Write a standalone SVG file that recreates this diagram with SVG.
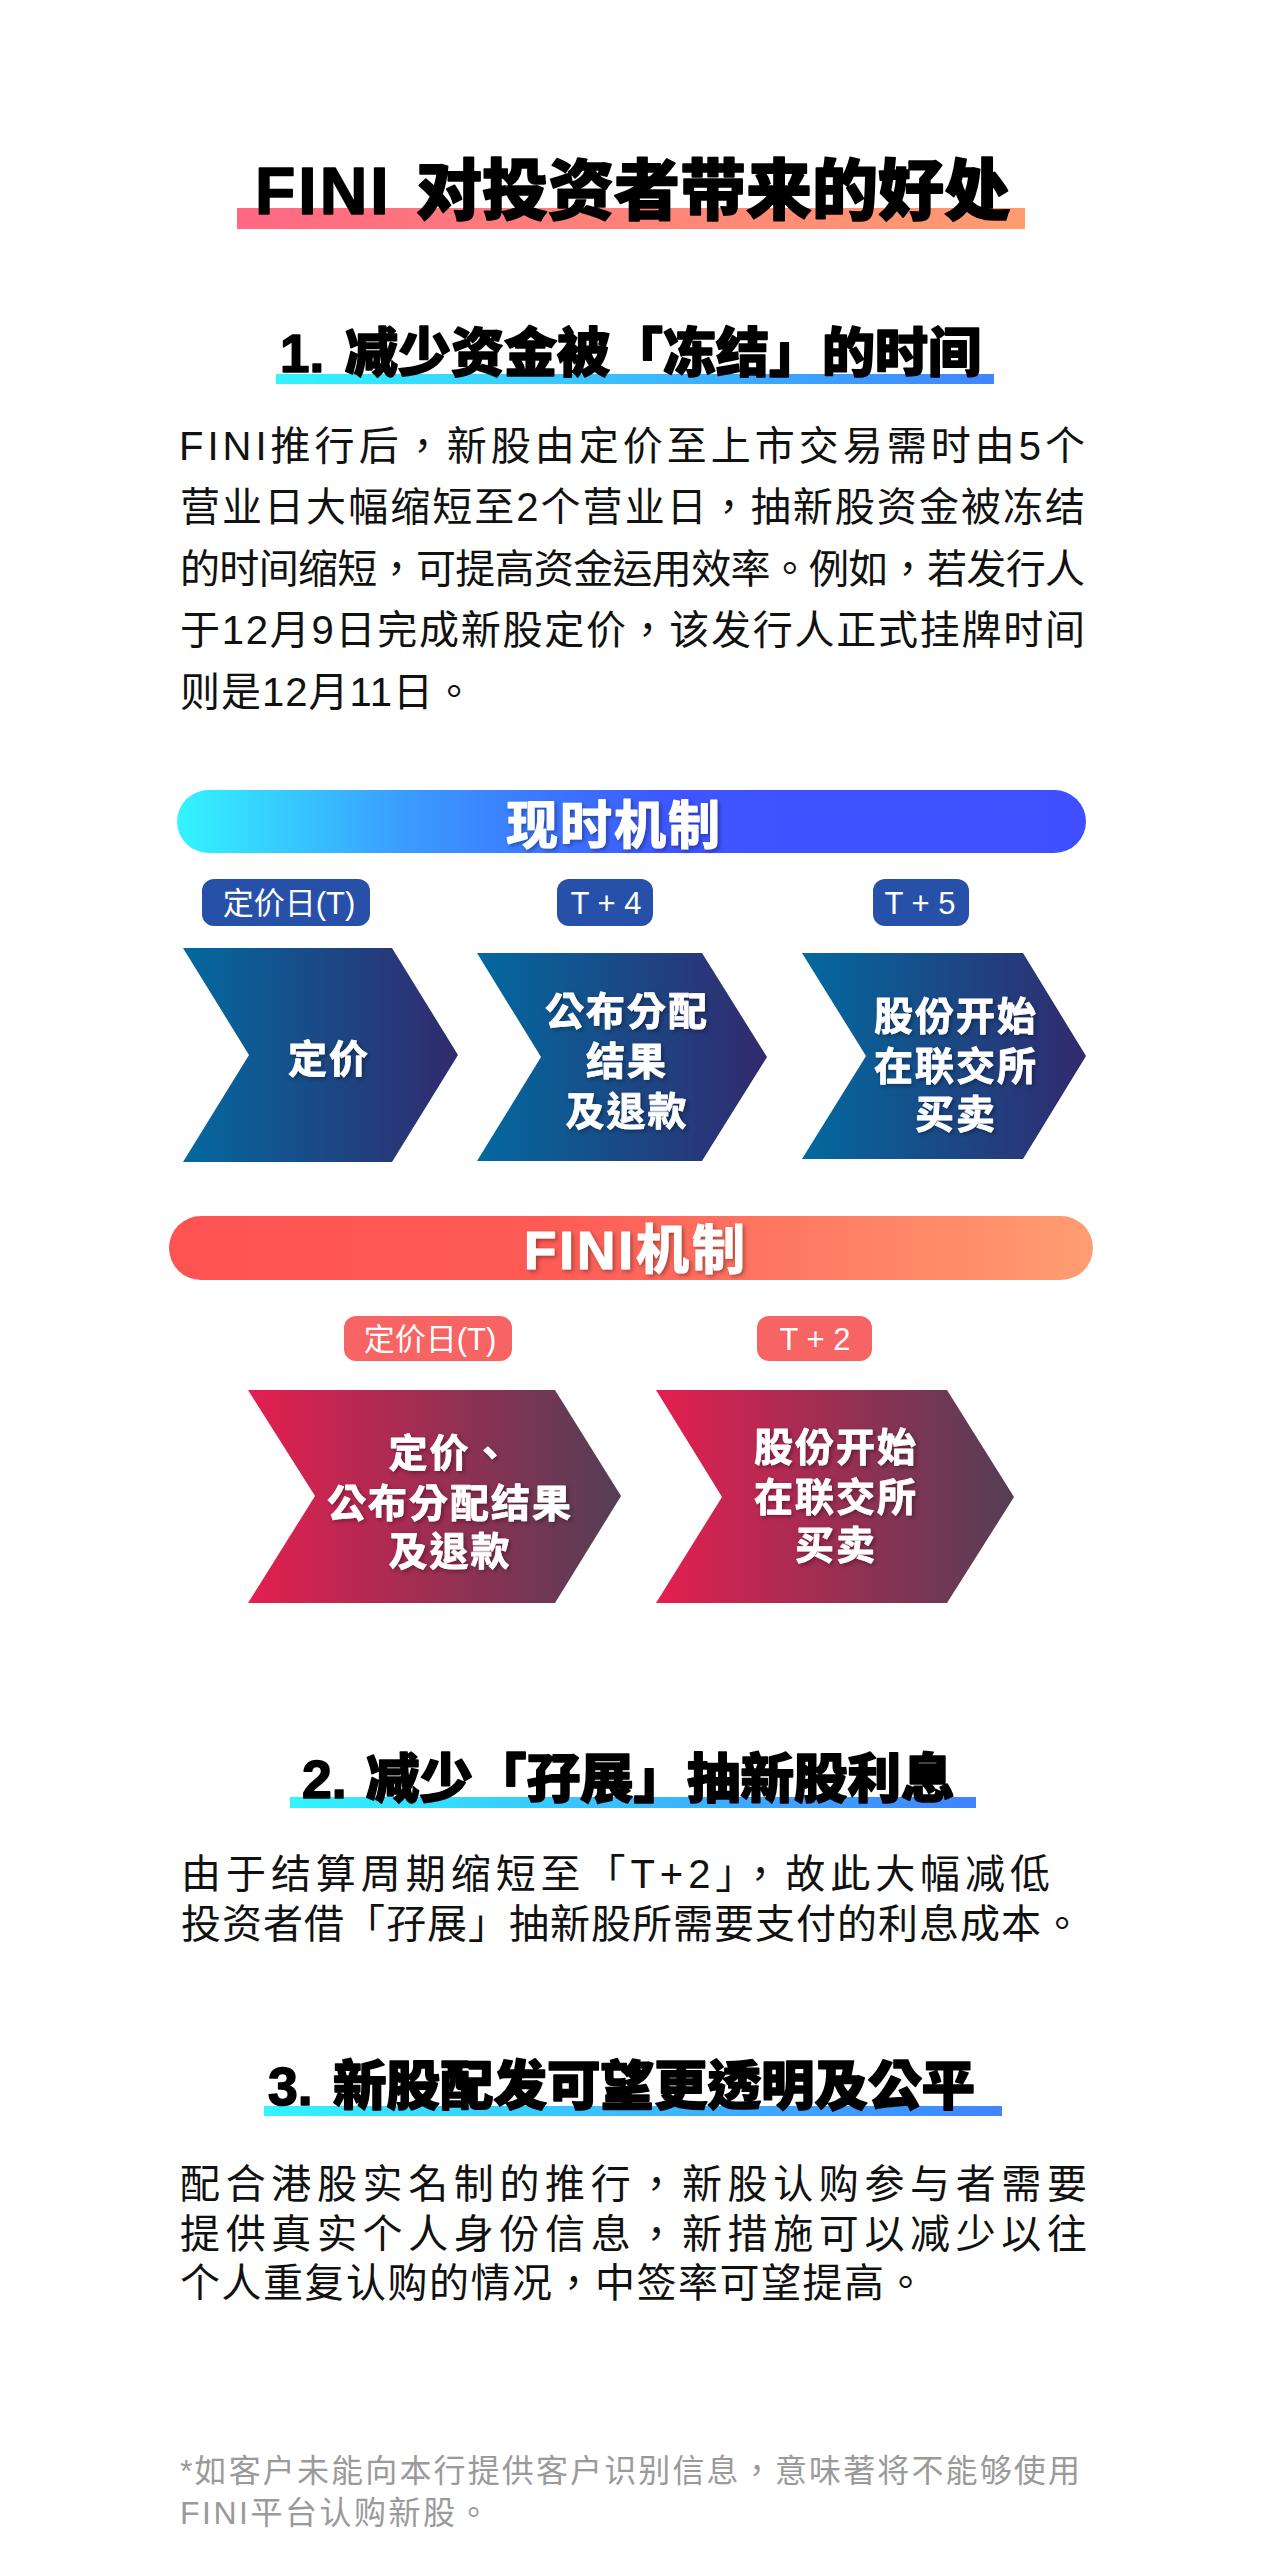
<svg xmlns="http://www.w3.org/2000/svg" width="1263" height="2560" viewBox="0 0 1263 2560">
<defs>
<linearGradient id="gTitle" x1="0" y1="0" x2="1" y2="0"><stop offset="0" stop-color="#ff6883"/><stop offset="1" stop-color="#ff9c6f"/></linearGradient>
<linearGradient id="gHead" x1="0" y1="0" x2="1" y2="0"><stop offset="0" stop-color="#34f3ff"/><stop offset="1" stop-color="#4084ff"/></linearGradient>
<linearGradient id="gBluePill" x1="0" y1="0" x2="1" y2="0"><stop offset="0" stop-color="#33f4ff"/><stop offset="0.25" stop-color="#3a9cff"/><stop offset="0.55" stop-color="#3e55ff"/><stop offset="1" stop-color="#3f4fff"/></linearGradient>
<linearGradient id="gRedPill" x1="0" y1="0" x2="1" y2="0"><stop offset="0" stop-color="#ff5353"/><stop offset="0.4" stop-color="#ff5a55"/><stop offset="1" stop-color="#ff9d72"/></linearGradient>
<linearGradient id="gBlueChev" x1="0" y1="0" x2="1" y2="0"><stop offset="0" stop-color="#03699f"/><stop offset="1" stop-color="#312a6e"/></linearGradient>
<linearGradient id="gRedChev" x1="0" y1="0" x2="1" y2="0"><stop offset="0" stop-color="#e41f50"/><stop offset="1" stop-color="#533e55"/></linearGradient>
<filter id="ts" x="-10%" y="-20%" width="125%" height="150%"><feDropShadow dx="2" dy="2" stdDeviation="2" flood-color="#000" flood-opacity="0.35"/></filter>
<style>
.h{font-family:"Liberation Sans","Noto Sans CJK TC",sans-serif;font-weight:900;fill:#000;stroke:#000;stroke-width:1.6px;stroke-linejoin:round}
.b{font-family:"Liberation Sans","Noto Sans CJK TC",sans-serif;font-size:40px;fill:#111}
.fn{font-family:"Liberation Sans","Noto Sans CJK TC",sans-serif;font-size:32px;fill:#9a9a9a}
.pill{font-family:"Liberation Sans","Noto Sans CJK TC",sans-serif;font-weight:700;fill:#fff;stroke:#fff;stroke-width:1.2px;stroke-linejoin:round}
.tag{font-family:"Liberation Sans","Noto Sans CJK TC",sans-serif;font-size:31px;fill:#fff;text-anchor:middle}
.cv{font-family:"Liberation Sans","Noto Sans CJK TC",sans-serif;font-weight:700;font-size:39px;fill:#fff;stroke:#fff;stroke-width:0.8px;stroke-linejoin:round;text-anchor:middle;letter-spacing:2px}
.tb{fill:#2751a9}
.tr{fill:#f76464}
</style>
</defs>
<rect width="1263" height="2560" fill="#fff"/>

<g id="title">
<rect x="237" y="208" width="788" height="21" fill="url(#gTitle)"/>
<text class="h" font-size="66" x="255" y="214"><tspan letter-spacing="3">FINI</tspan> <tspan x="416">对投资者带来的好处</tspan></text>
</g>

<g id="heading1">
<rect x="276" y="374" width="718" height="10" fill="url(#gHead)"/>
<text class="h" font-size="53" x="280" y="372">1. <tspan x="345">减少资金被「冻结」的时间</tspan></text>
</g>

<g id="para1">
<text class="b" x="179" y="460" textLength="906" lengthAdjust="spacing">FINI推行后，新股由定价至上市交易需时由5个</text>
<text class="b" x="180" y="521" textLength="905" lengthAdjust="spacing">营业日大幅缩短至2个营业日，抽新股资金被冻结</text>
<text class="b" x="180" y="583" textLength="905" lengthAdjust="spacing">的时间缩短，可提高资金运用效率。例如，若发行人</text>
<text class="b" x="180" y="644" textLength="905" lengthAdjust="spacing">于12月9日完成新股定价，该发行人正式挂牌时间</text>
<text class="b" x="180" y="706" letter-spacing="1">则是12月11日。</text>
</g>

<g id="current-mechanism">
<rect x="177" y="790" width="909" height="63" rx="31.5" fill="url(#gBluePill)"/>
<text class="pill" font-size="52" x="506" y="844" letter-spacing="2" filter="url(#ts)">现时机制</text>
</g>

<g id="tag-current-T">
<rect class="tb" x="202" y="879" width="168" height="47" rx="12"/>
<text class="tag" x="289" y="914">定价日(T)</text>
</g>
<g id="tag-current-T4">
<rect class="tb" x="557" y="879" width="96" height="47" rx="12"/>
<text class="tag" x="606" y="914">T + 4</text>
</g>
<g id="tag-current-T5">
<rect class="tb" x="873" y="879" width="96" height="47" rx="12"/>
<text class="tag" x="920" y="914">T + 5</text>
</g>

<g id="step-current-1">
<polygon points="183,948 392,948 458,1055 392,1162 183,1162 249,1055" fill="url(#gBlueChev)"/>
<text class="cv" x="329" y="1073" font-size="40" letter-spacing="3" filter="url(#ts)">定价</text>
</g>
<g id="step-current-2">
<polygon points="477,953 702,953 767,1057 702,1161 477,1161 541,1057" fill="url(#gBlueChev)"/>
<text class="cv" x="627" y="1025" filter="url(#ts)">公布分配</text>
<text class="cv" x="627" y="1075" filter="url(#ts)">结果</text>
<text class="cv" x="627" y="1125" filter="url(#ts)">及退款</text>
</g>
<g id="step-current-3">
<polygon points="802,953 1023,953 1086,1056 1023,1159 802,1159 866,1056" fill="url(#gBlueChev)"/>
<text class="cv" x="956" y="1030" filter="url(#ts)">股份开始</text>
<text class="cv" x="956" y="1080" filter="url(#ts)">在联交所</text>
<text class="cv" x="956" y="1128" filter="url(#ts)">买卖</text>
</g>

<g id="fini-mechanism">
<rect x="169" y="1216" width="924" height="64" rx="32" fill="url(#gRedPill)"/>
<text class="pill" font-size="53" x="524" y="1269" letter-spacing="3" filter="url(#ts)">FINI机制</text>
</g>

<g id="tag-fini-T">
<rect class="tr" x="344" y="1316" width="168" height="45" rx="12"/>
<text class="tag" x="430" y="1350">定价日(T)</text>
</g>
<g id="tag-fini-T2">
<rect class="tr" x="757" y="1316" width="115" height="45" rx="12"/>
<text class="tag" x="815" y="1350">T + 2</text>
</g>

<g id="step-fini-1">
<polygon points="248,1390 555,1390 621,1496 555,1603 248,1603 315,1496" fill="url(#gRedChev)"/>
<text class="cv" x="450" y="1467" filter="url(#ts)">定价、</text>
<text class="cv" x="450" y="1517" filter="url(#ts)">公布分配结果</text>
<text class="cv" x="450" y="1565" filter="url(#ts)">及退款</text>
</g>
<g id="step-fini-2">
<polygon points="656,1390 947,1390 1014,1497 947,1603 656,1603 722,1497" fill="url(#gRedChev)"/>
<text class="cv" x="836" y="1461" filter="url(#ts)">股份开始</text>
<text class="cv" x="836" y="1511" filter="url(#ts)">在联交所</text>
<text class="cv" x="836" y="1559" filter="url(#ts)">买卖</text>
</g>

<g id="connectors"></g>

<g id="heading2">
<rect x="290" y="1797" width="686" height="11" fill="url(#gHead)"/>
<text class="h" font-size="53.5" x="302" y="1798">2. <tspan x="366">减少「孖展」抽新股利息</tspan></text>
</g>

<g id="para2">
<text class="b" x="181" y="1888" textLength="869" lengthAdjust="spacing">由于结算周期缩短至「T+2」，故此大幅减低</text>
<text class="b" x="181" y="1938" letter-spacing="1">投资者借「孖展」抽新股所需要支付的利息成本。</text>
</g>

<g id="heading3">
<rect x="264" y="2106" width="738" height="10" fill="url(#gHead)"/>
<text class="h" font-size="53.5" x="268" y="2105">3. <tspan x="333">新股配发可望更透明及公平</tspan></text>
</g>

<g id="para3">
<text class="b" x="180" y="2198" textLength="907" lengthAdjust="spacing">配合港股实名制的推行，新股认购参与者需要</text>
<text class="b" x="180" y="2248" textLength="907" lengthAdjust="spacing">提供真实个人身份信息，新措施可以减少以往</text>
<text class="b" x="180" y="2297" letter-spacing="1.5">个人重复认购的情况，中签率可望提高。</text>
</g>

<g id="footnote">
<text class="fn" x="180" y="2482" textLength="900" lengthAdjust="spacing">*如客户未能向本行提供客户识别信息，意味著将不能够使用</text>
<text class="fn" x="180" y="2524" letter-spacing="2.5">FINI平台认购新股。</text>
</g>
</svg>
